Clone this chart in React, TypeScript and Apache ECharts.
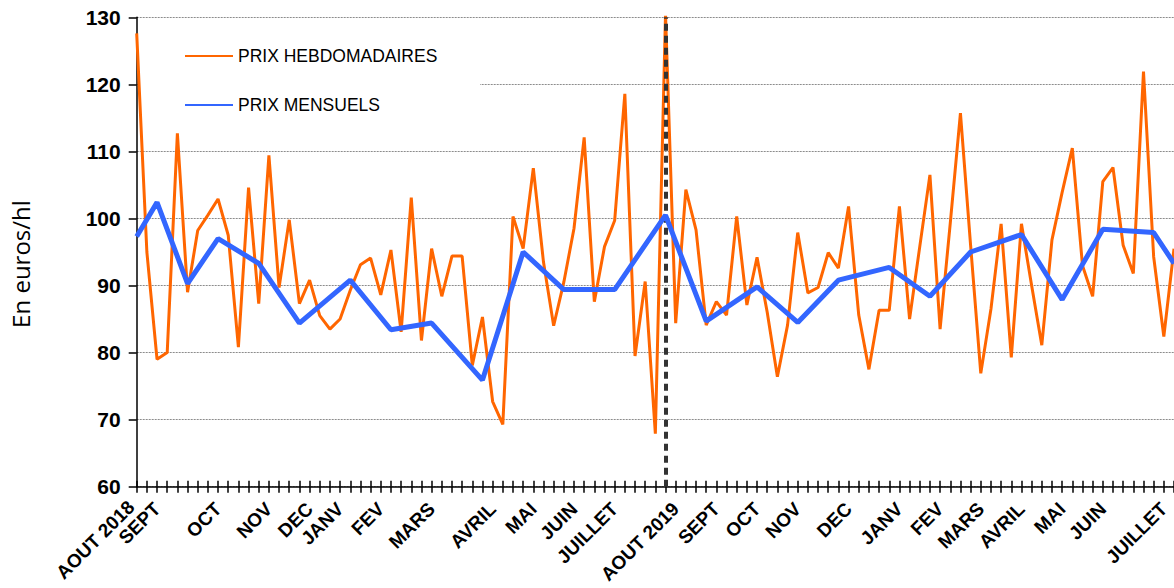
import React, { useEffect, useRef } from "react";
import * as echarts from "echarts";

// Weekly prices (euros/hl), one value per week from August 2018
const weeklyPrices: number[] = [
  127.6, 95, 79, 80, 112.7, 89, 98.2, 100.5, 102.9, 97.5,
  80.8, 104.6, 87.3, 109.4, 89.7, 99.8, 87.3, 90.8, 85.5, 83.5,
  85, 89.3, 93.1, 94.1, 88.6, 95.3, 83.1, 103.1, 81.8, 95.5,
  88.4, 94.4, 94.4, 78.1, 85.3, 72.7, 69.3, 100.3, 95.5, 107.5,
  93.5, 84, 90.5, 98.5, 112.1, 87.6, 95.8, 99.7, 118.6, 79.5,
  90.6, 67.9, 130.5, 84.4, 104.3, 98.3, 84.1, 87.6, 85.6, 100.3,
  87.1, 94.2, 86, 76.4, 84.1, 97.9, 88.9, 89.7, 94.9, 92.6,
  101.8, 85.6, 77.5, 86.3, 86.3, 101.8, 85, 95.8, 106.5, 83.5,
  99.3, 115.7, 96, 76.9, 86.5, 99.2, 79.3, 99.2, 90, 81.1,
  96.8, 103.9, 110.5, 93, 88.4, 105.5, 107.6, 96, 91.8, 121.9,
  94.3, 82.4, 95.5,
];

// Monthly prices: week index where each monthly point sits, and its value
const monthlyWeeks: number[] = [
  0, 2, 5, 8, 12, 16, 21, 25, 29, 34, 38, 42, 47, 52,
  56, 61, 65, 69, 74, 78, 82, 87, 91, 95, 100, 102,
];
const monthlyPrices: number[] = [
  97.3, 102.4, 90.3, 97.0, 93.3, 84.4, 90.8, 83.4, 84.4, 75.9, 95.0, 89.4, 89.4, 100.5,
  84.7, 89.8, 84.5, 90.8, 92.7, 88.4, 95.0, 97.6, 87.9, 98.4, 97.9, 93.3,
];

// Month tick labels and the week each one is attached to
// (the first one, at week 0, is drawn a little to the left of the plot edge)
const firstMonthLabel = "AOUT 2018";
const monthLabels: string[] = [
  "SEPT", "OCT", "NOV", "DEC", "JANV", "FEV", "MARS", "AVRIL", "MAI", "JUIN", "JUILLET",
  "AOUT 2019", "SEPT", "OCT", "NOV", "DEC", "JANV", "FEV", "MARS", "AVRIL", "MAI", "JUIN", "JUILLET",
];
const monthLabelWeeks: number[] = [
  2, 8, 13, 17, 20, 24, 29, 35, 39, 43, 47,
  53, 57, 61, 65, 70, 75, 79, 83, 87, 91, 95, 101,
];

// Week of the vertical separator (August 2019)
const separatorWeek = 52;

const yTicks = { min: 60, max: 130, interval: 10 };

const seriesNames = ["PRIX HEBDOMADAIRES", "PRIX MENSUELS"];
const yAxisTitle = "En euros/hl";

export default function App() {
  const ref = useRef<HTMLDivElement>(null);

  useEffect(() => {
    if (!ref.current) return;
    const chart = echarts.init(ref.current, null, { renderer: "svg" });

    const categories: string[] = weeklyPrices.map(() => "");
    monthLabelWeeks.forEach((w, i) => {
      categories[w] = monthLabels[i];
    });
    const monthlySeries: (number | null)[] = weeklyPrices.map(() => null);
    monthlyWeeks.forEach((w, i) => {
      monthlySeries[w] = monthlyPrices[i];
    });

    const font = "'Liberation Sans', Arial, sans-serif";

    chart.setOption({
      animation: false,
      backgroundColor: "#ffffff",
      textStyle: { fontFamily: font },
      grid: {
        left: 136.7,
        right: 0,
        top: 17.3,
        bottom: 101.3,
        containLabel: false,
        outerBoundsMode: "none",
      },
      legend: {
        orient: "vertical",
        left: 184,
        top: 47,
        padding: 0,
        itemWidth: 48,
        itemHeight: 14,
        itemGap: 31,
        data: seriesNames,
        itemStyle: { opacity: 0 },
        textStyle: { fontSize: 17.5, color: "#000", fontFamily: font },
      },
      graphic: [
        {
          type: "rect",
          z: 1,
          shape: { x: 139, y: 24, width: 341, height: 100 },
          style: { fill: "#ffffff" },
          silent: true,
        },
        {
          type: "text",
          z: 5,
          x: 131,
          y: 504,
          rotation: Math.PI / 4,
          silent: true,
          style: {
            text: firstMonthLabel,
            font: "bold 19px 'Liberation Sans', Arial, sans-serif",
            fill: "#000",
            align: "right",
            verticalAlign: "middle",
          },
        },
      ],
      xAxis: [
        {
          type: "category",
          data: categories,
          boundaryGap: false,
          axisLine: { show: true, lineStyle: { color: "#000", width: 1.5 } },
          axisTick: { show: true, interval: 0, length: 6, lineStyle: { color: "#000", width: 1.5 } },
          axisLabel: {
            interval: 0,
            rotate: 45,
            fontSize: 19,
            fontWeight: "bold",
            color: "#000",
            margin: 19,
            fontFamily: font,
          },
          splitLine: { show: false },
        },
        {
          type: "category",
          data: categories,
          position: "bottom",
          boundaryGap: false,
          axisLine: { show: false },
          axisTick: { show: true, inside: true, interval: 0, length: 6, lineStyle: { color: "#000", width: 1.5 } },
          axisLabel: { show: false },
          splitLine: { show: false },
        },
      ],
      yAxis: {
        type: "value",
        min: yTicks.min,
        max: yTicks.max,
        interval: yTicks.interval,
        name: yAxisTitle,
        nameLocation: "middle",
        nameRotate: 90,
        nameGap: 104,
        nameTextStyle: {
          fontSize: 24,
          color: "#000",
          fontFamily: "'Open Sans', sans-serif",
          padding: [0, 24, 0, 0],
        },
        axisLine: { show: true, lineStyle: { color: "#000", width: 1.5 } },
        axisTick: { show: true, length: 8, lineStyle: { color: "#000", width: 1.5 } },
        axisLabel: { fontSize: 21, fontWeight: "bold", color: "#000", margin: 16, fontFamily: font },
        splitLine: { show: true, lineStyle: { color: "#8c8c8c", width: 1, type: [2, 1] } },
      },
      series: [
        {
          name: seriesNames[0],
          type: "line",
          data: weeklyPrices,
          z: 2,
          symbol: "none",
          lineStyle: { color: "#FF6600", width: 3 },
          itemStyle: { color: "#FF6600" },
          markLine: {
            z: 3,
            silent: true,
            symbol: ["none", "none"],
            label: { show: false },
            lineStyle: { color: "#333333", width: 4, type: [7, 5] },
            data: [{ xAxis: separatorWeek }],
          },
        },
        {
          name: seriesNames[1],
          type: "line",
          data: monthlySeries,
          connectNulls: true,
          z: 4,
          symbol: "none",
          lineStyle: { color: "#3366FF", width: 5 },
          itemStyle: { color: "#3366FF" },
        },
      ],
    });

    return () => chart.dispose();
  }, []);

  return (
    <div
      ref={ref}
      style={{ position: "absolute", left: 0, top: 0, width: 1174, height: 588 }}
    />
  );
}
